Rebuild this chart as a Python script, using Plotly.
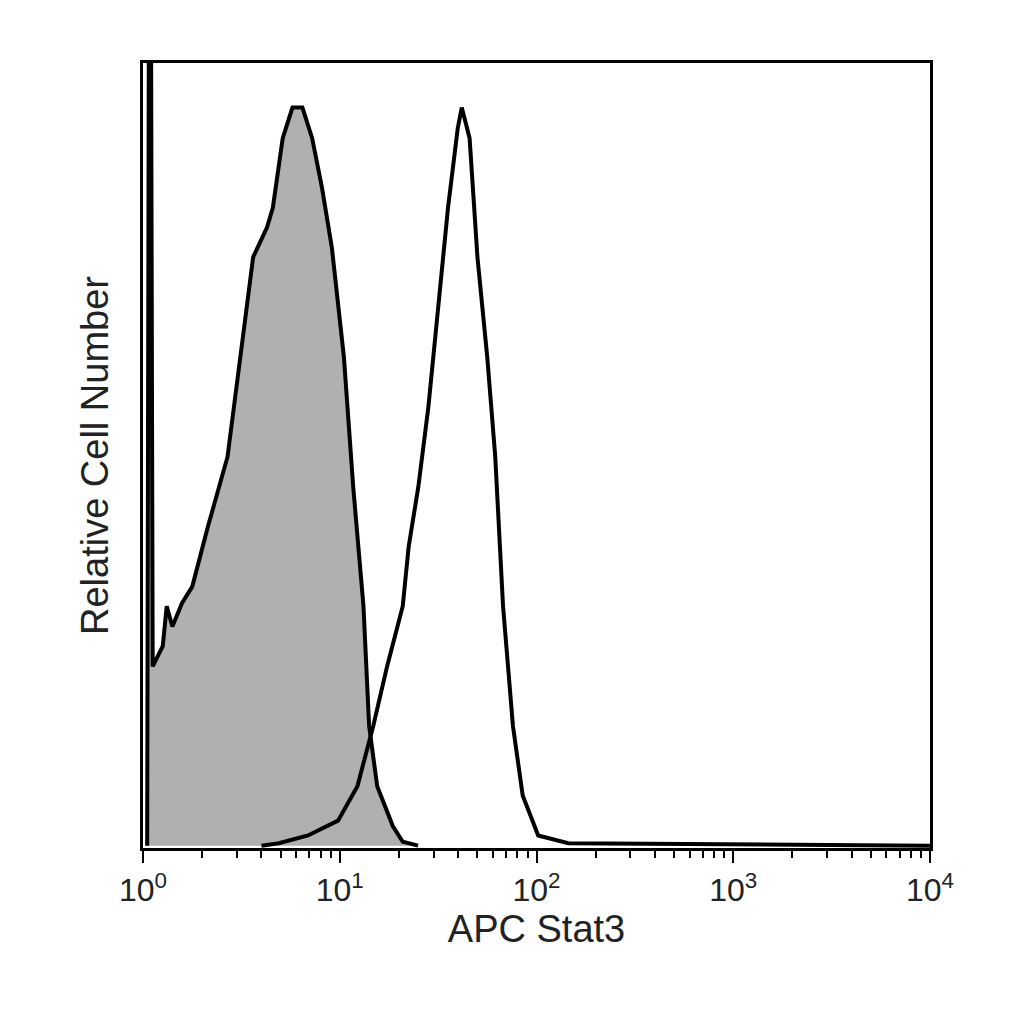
import plotly.graph_objects as go

iso_x = [1.05, 1.07, 1.10, 1.12, 1.26, 1.32, 1.41, 1.58, 1.78, 2.14, 2.69, 3.24, 3.63, 4.27, 4.57, 5.13, 5.75, 6.46, 7.24, 8.13, 9.12, 10.5, 11.7, 13.2, 14.1, 15.5, 18.6, 20.9, 25.0]
iso_y = [0, 100, 100, 22.9, 25.5, 30.6, 28.0, 31.0, 33.1, 40.8, 49.7, 65.0, 75.2, 79.0, 81.5, 90.4, 94.3, 94.3, 90.4, 84.0, 76.4, 62.4, 45.9, 30.6, 15.3, 7.6, 2.5, 0.5, 0]

st_x = [4.0, 4.9, 6.9, 9.8, 12.3, 14.8, 17.4, 20.9, 22.4, 25.1, 28.2, 31.6, 35.5, 39.8, 41.7, 45.7, 50.1, 56.2, 61.7, 67.6, 75.9, 85.1, 102, 145, 10000]
st_y = [0, 0.3, 1.3, 3.2, 7.6, 15.3, 22.9, 30.6, 38.2, 45.9, 56.0, 68.8, 81.5, 91.7, 94.3, 90.4, 75.2, 62.4, 49.7, 30.6, 15.3, 6.4, 1.3, 0.3, 0]

tickvals = [1, 10, 100, 1000, 10000]
ticktext = ["10<sup>0</sup>", "10<sup>1</sup>", "10<sup>2</sup>", "10<sup>3</sup>", "10<sup>4</sup>"]

fig = go.Figure()
fig.add_trace(go.Scatter(x=iso_x, y=iso_y, mode="lines", fill="tozeroy",
                         fillcolor="#b0b0b0", line=dict(color="black", width=4)))
fig.add_trace(go.Scatter(x=st_x, y=st_y, mode="lines", line=dict(color="black", width=4)))
fig.update_layout(
    width=1024, height=1024, showlegend=False,
    paper_bgcolor="white", plot_bgcolor="white",
    margin=dict(l=135, r=102, t=55, b=184, autoexpand=False),
    font=dict(family="Liberation Sans, Arial", color="#222", size=32),
)
fig.update_xaxes(type="log", range=[0, 4], tickvals=tickvals, ticktext=ticktext,
                 ticks="outside", ticklen=12, tickwidth=2, tickcolor="black",
                 minor=dict(ticks="outside", ticklen=7, tickwidth=1.5, tickcolor="black", dtick="D1"),
                 showline=True, linecolor="black", linewidth=3, mirror=True,
                 showgrid=False, zeroline=False, automargin=False,
                 title=dict(text="APC Stat3", font=dict(size=38), standoff=8),
                 tickfont=dict(size=32))
fig.update_yaxes(range=[-0.3, 100], showticklabels=False, ticks="",
                 showline=True, linecolor="black", linewidth=3, mirror=True,
                 showgrid=False, zeroline=False, automargin=False,
                 title=dict(text="Relative Cell Number", font=dict(size=38), standoff=20))
fig.write_html("out.html")
